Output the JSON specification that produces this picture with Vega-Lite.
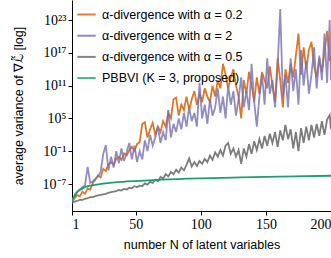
{
  "$schema": "https://vega.github.io/schema/vega-lite/v6.json",
  "autosize": "none",
  "width": 259,
  "height": 211,
  "padding": {"left": 72, "top": 0, "right": 0, "bottom": 47},
  "background": "white",
  "config": {
    "view": {"stroke": null},
    "axis": {"grid": false, "domainColor": "black", "tickColor": "black", "domainWidth": 1, "tickWidth": 1, "tickSize": 4, "labelFont": "Liberation Serif", "labelFontSize": 14, "labelColor": "black", "titleFont": "Liberation Sans", "titleFontSize": 12.5, "titleFontWeight": "normal", "titleColor": "black"},
    "legend": {"labelFont": "Liberation Sans", "labelFontSize": 12.5, "labelColor": "black"}
  },
  "datasets": {
    "a": [
      {"N":1,"v":6.3e-11},{"N":3,"v":2.5e-10},{"N":5,"v":1e-9},{"N":7,"v":5e-10},{"N":9,"v":4e-9},{"N":11,"v":1.6e-9},{"N":13,"v":1.6e-8},{"N":15,"v":1e-8},{"N":17,"v":1.6e-7},{"N":19,"v":6.3e-7},
      {"N":21,"v":4e-6},{"N":23,"v":1.6e-6},{"N":25,"v":6.3e-5},{"N":27,"v":2.5e-5},{"N":29,"v":4e-4},{"N":31,"v":1e-3},{"N":33,"v":3.2e-4},{"N":35,"v":4e-3},{"N":37,"v":1e-2},{"N":39,"v":2.5e-3},
      {"N":41,"v":4e-2},{"N":43,"v":1.6e-2},{"N":45,"v":0.16},{"N":47,"v":0.63},{"N":49,"v":0.13},{"N":51,"v":2},{"N":53,"v":5},{"N":55,"v":1e4},{"N":57,"v":2e4},{"N":59,"v":32},
      {"N":61,"v":1e3},{"N":63,"v":1.6e4},{"N":65,"v":100},{"N":67,"v":3.2e3},{"N":69,"v":320},{"N":71,"v":3.2e4},{"N":73,"v":3.2e3},{"N":75,"v":1e6},{"N":77,"v":1e5},{"N":79,"v":3.2e8},
      {"N":81,"v":6.3e8},{"N":83,"v":3.2e5},{"N":85,"v":3.2e7},{"N":87,"v":3.2e6},{"N":89,"v":1e9},{"N":91,"v":3.2e6},{"N":93,"v":3.2e8},{"N":95,"v":1e10},{"N":97,"v":3.2e7},{"N":99,"v":3.2e9},
      {"N":101,"v":1e8},{"N":103,"v":3.2e10},{"N":105,"v":1e9},{"N":107,"v":1e8},{"N":109,"v":1e11},{"N":111,"v":1e9},{"N":113,"v":1e12},{"N":115,"v":3.2e10},{"N":117,"v":1e15},{"N":119,"v":1e13},
      {"N":121,"v":3.2e10},{"N":123,"v":3.2e12},{"N":125,"v":1e14},{"N":127,"v":1e11},{"N":129,"v":1e9},{"N":131,"v":1e5},{"N":133,"v":1e12},{"N":135,"v":3.2e9},{"N":137,"v":3.2e13},{"N":139,"v":1e11},
      {"N":141,"v":1e8},{"N":143,"v":3.2e12},{"N":145,"v":3.2e9},{"N":147,"v":3.2e13},{"N":149,"v":1e12},{"N":151,"v":3.2e10},{"N":153,"v":3.2e14},{"N":155,"v":1e11},{"N":157,"v":1e8},{"N":159,"v":1e16},
      {"N":161,"v":1e12},{"N":163,"v":1e7},{"N":165,"v":1e14},{"N":167,"v":3.2e11},{"N":169,"v":1e15},{"N":171,"v":3.2e12},{"N":173,"v":3.2e16},{"N":175,"v":3.2e20},{"N":177,"v":1e13},{"N":179,"v":1e18},
      {"N":181,"v":1e14},{"N":183,"v":3.2e17},{"N":185,"v":1e19},{"N":187,"v":3.2e14},{"N":189,"v":3.2e12},{"N":191,"v":1e16},{"N":193,"v":3.2e13},{"N":195,"v":1e17},{"N":197,"v":1e21},{"N":199,"v":3.2e15},{"N":200,"v":3.2e16}
    ],
    "b": [
      {"N":1,"v":6.3e-11},{"N":3,"v":1e-9},{"N":5,"v":4e-9},{"N":7,"v":1e-8},{"N":9,"v":2.5e-8},{"N":11,"v":6.3e-8},{"N":13,"v":1.3e-4},{"N":15,"v":1.6e-7},{"N":17,"v":3.2e-7},{"N":19,"v":1e-6},
      {"N":21,"v":2.5e-6},{"N":23,"v":1.6e-5},{"N":25,"v":3.2e-2},{"N":27,"v":1.3},{"N":29,"v":3.2e-5},{"N":31,"v":1e-2},{"N":33,"v":1e-4},{"N":35,"v":0.1},{"N":37,"v":6.3e-4},{"N":39,"v":0.32},
      {"N":41,"v":1.6e-3},{"N":43,"v":6.3e-2},{"N":45,"v":3.2},{"N":47,"v":3.2e-3},{"N":49,"v":1},{"N":51,"v":1e-3},{"N":53,"v":0.1},{"N":55,"v":3.2e-3},{"N":57,"v":10},{"N":59,"v":0.1},
      {"N":61,"v":100},{"N":63,"v":1},{"N":65,"v":32},{"N":67,"v":3.2e3},{"N":69,"v":3.2},{"N":71,"v":320},{"N":73,"v":10},{"N":75,"v":3.2e6},{"N":77,"v":32},{"N":79,"v":1e4},
      {"N":81,"v":320},{"N":83,"v":1e5},{"N":85,"v":1e3},{"N":87,"v":1e6},{"N":89,"v":3.2e3},{"N":91,"v":1e7},{"N":93,"v":3.2e4},{"N":95,"v":1e6},{"N":97,"v":3.2e3},{"N":99,"v":3.2e11},
      {"N":101,"v":1e5},{"N":103,"v":3.2e7},{"N":105,"v":1e4},{"N":107,"v":3.2e8},{"N":109,"v":3.2e5},{"N":111,"v":1e7},{"N":113,"v":3.2e10},{"N":115,"v":1e6},{"N":117,"v":1e9},{"N":119,"v":1e5},
      {"N":121,"v":1e11},{"N":123,"v":3.2e7},{"N":125,"v":1e10},{"N":127,"v":3.2e5},{"N":129,"v":3.2e8},{"N":131,"v":3.2e12},{"N":133,"v":1e7},{"N":135,"v":1e10},{"N":137,"v":3.2e6},{"N":139,"v":1e15},
      {"N":141,"v":1e8},{"N":143,"v":3.2e3},{"N":145,"v":1e9},{"N":147,"v":1e13},{"N":149,"v":3.2e7},{"N":151,"v":1e16},{"N":153,"v":3.2e9},{"N":155,"v":1e12},{"N":157,"v":1e7},{"N":159,"v":3.2e14},
      {"N":161,"v":1e25},{"N":163,"v":1e9},{"N":165,"v":1e13},{"N":167,"v":1e7},{"N":169,"v":1e16},{"N":171,"v":1e10},{"N":173,"v":1e14},{"N":175,"v":3.2e7},{"N":177,"v":3.2e17},{"N":179,"v":1e11},
      {"N":181,"v":3.2e15},{"N":183,"v":3.2e9},{"N":185,"v":1e13},{"N":187,"v":1e18},{"N":189,"v":3.2e10},{"N":191,"v":3.2e16},{"N":193,"v":1e12},{"N":195,"v":3.2e20},{"N":197,"v":3.2e11},{"N":199,"v":1e23},{"N":200,"v":1e12}
    ],
    "c": [
      {"N":1,"v":3.2e-11},{"N":3,"v":6.3e-11},{"N":5,"v":7.9e-11},{"N":7,"v":1.3e-10},{"N":9,"v":1.3e-10},{"N":11,"v":2e-10},{"N":13,"v":2.5e-10},{"N":15,"v":4e-10},{"N":17,"v":4e-10},{"N":19,"v":6.3e-10},
      {"N":21,"v":7.9e-10},{"N":23,"v":1e-9},{"N":25,"v":1.3e-9},{"N":27,"v":1.6e-9},{"N":29,"v":2.5e-9},{"N":31,"v":3.2e-9},{"N":33,"v":4e-9},{"N":35,"v":5e-9},{"N":37,"v":7.9e-9},{"N":39,"v":6.3e-9},
      {"N":41,"v":1.3e-8},{"N":43,"v":1e-8},{"N":45,"v":2e-8},{"N":47,"v":1.6e-8},{"N":49,"v":4e-8},{"N":51,"v":2.5e-8},{"N":53,"v":5e-8},{"N":55,"v":4e-8},{"N":57,"v":1.3e-7},{"N":59,"v":7.9e-8},
      {"N":61,"v":2.5e-7},{"N":63,"v":1.6e-7},{"N":65,"v":6.3e-7},{"N":67,"v":3.2e-7},{"N":69,"v":2e-6},{"N":71,"v":1e-6},{"N":73,"v":6.3e-6},{"N":75,"v":2.5e-6},{"N":77,"v":1.6e-5},{"N":79,"v":6.3e-6},
      {"N":81,"v":4e-5},{"N":83,"v":1.3e-5},{"N":85,"v":1e-4},{"N":87,"v":3.2e-5},{"N":89,"v":3.2e-4},{"N":91,"v":5e-3},{"N":93,"v":1.6e-4},{"N":95,"v":1e-3},{"N":97,"v":2e-4},{"N":99,"v":1.6e-3},
      {"N":101,"v":5e-4},{"N":103,"v":4e-3},{"N":105,"v":1e-3},{"N":107,"v":1.6e-2},{"N":109,"v":2.5e-3},{"N":111,"v":6.3e-2},{"N":113,"v":1e-2},{"N":115,"v":0.16},{"N":117,"v":1.6e-2},{"N":119,"v":1},
      {"N":121,"v":3.2},{"N":123,"v":3.2e-2},{"N":125,"v":0.32},{"N":127,"v":1e-2},{"N":129,"v":0.16},{"N":131,"v":5e-4},{"N":133,"v":0.32},{"N":135,"v":1e-2},{"N":137,"v":2},{"N":139,"v":3.2e-2},
      {"N":141,"v":6.3},{"N":143,"v":0.16},{"N":145,"v":16},{"N":147,"v":0.32},{"N":149,"v":63},{"N":151,"v":1},{"N":153,"v":160},{"N":155,"v":3.2},{"N":157,"v":320},{"N":159,"v":0.63},
      {"N":161,"v":630},{"N":163,"v":10},{"N":165,"v":6300},{"N":167,"v":16},{"N":169,"v":1000},{"N":171,"v":0.32},{"N":173,"v":320},{"N":175,"v":0.1},{"N":177,"v":1600},{"N":179,"v":3.2},
      {"N":181,"v":3200},{"N":183,"v":10},{"N":185,"v":6300},{"N":187,"v":32},{"N":189,"v":1e4},{"N":191,"v":63},{"N":193,"v":3.2e4},{"N":195,"v":100},{"N":197,"v":6.3e4},{"N":199,"v":4e5},{"N":200,"v":1000}
    ],
    "d": [
      {"N":1,"v":6.3e-11},{"N":2,"v":2.5e-10},{"N":3,"v":6.3e-10},{"N":4,"v":1.6e-9},{"N":5,"v":3.2e-9},{"N":7,"v":7.9e-9},{"N":9,"v":1.6e-8},{"N":12,"v":3.2e-8},{"N":15,"v":5e-8},{"N":20,"v":7.9e-8},
      {"N":30,"v":1.6e-7},{"N":40,"v":2.5e-7},{"N":50,"v":3.5e-7},{"N":70,"v":6.3e-7},{"N":100,"v":1.1e-6},{"N":130,"v":1.6e-6},{"N":160,"v":2.2e-6},{"N":200,"v":3.2e-6}
    ]
  },
  "encoding": {
    "x": {"field": "N", "type": "quantitative", "scale": {"domain": [1, 200], "nice": false, "zero": false},
      "axis": {"values": [1, 50, 100, 150, 200], "title": "number N of latent variables", "labelPadding": 2, "titleY": 27, "titleBaseline": "top"}},
    "y": {"field": "v", "type": "quantitative", "scale": {"type": "log", "domain": [1.15e-12, 4.6e26], "nice": false},
      "axis": {"values": [1e-7, 0.1, 1e5, 1e11, 1e17, 1e23], "title": "average variance of ∇ℒ̃ [log]", "titleX": -47,
        "labelExpr": "round(log(datum.value)/LN10) == 23 ? '10²³' : round(log(datum.value)/LN10) == 17 ? '10¹⁷' : round(log(datum.value)/LN10) == 11 ? '10¹¹' : round(log(datum.value)/LN10) == 5 ? '10⁵' : round(log(datum.value)/LN10) == -1 ? '10⁻¹' : '10⁻⁷'"}}
  },
  "layer": [
    {"data": {"name": "a"}, "mark": {"type": "line", "clip": true, "strokeWidth": 1.8, "opacity": 0.85},
      "encoding": {"color": {"datum": "α-divergence with α = 0.2", "type": "nominal",
        "scale": {"domain": ["α-divergence with α = 0.2", "α-divergence with α = 2", "α-divergence with α = 0.5", "PBBVI (K = 3, proposed)"], "range": ["#d95f02", "#7570b3", "#666666", "#1b9e77"]},
        "legend": {"title": null, "orient": "none", "legendX": 4, "legendY": 4, "symbolType": "stroke", "symbolSize": 340, "symbolStrokeWidth": 2, "symbolOpacity": 0.85, "labelOffset": 5, "rowPadding": 4.2}}}},
    {"data": {"name": "b"}, "mark": {"type": "line", "clip": true, "strokeWidth": 1.8, "opacity": 0.8},
      "encoding": {"color": {"datum": "α-divergence with α = 2", "type": "nominal"}}},
    {"data": {"name": "c"}, "mark": {"type": "line", "clip": true, "strokeWidth": 1.8, "opacity": 0.85},
      "encoding": {"color": {"datum": "α-divergence with α = 0.5", "type": "nominal"}}},
    {"data": {"name": "d"}, "mark": {"type": "line", "clip": true, "strokeWidth": 1.8, "interpolate": "monotone"},
      "encoding": {"color": {"datum": "PBBVI (K = 3, proposed)", "type": "nominal"}}}
  ]
}
